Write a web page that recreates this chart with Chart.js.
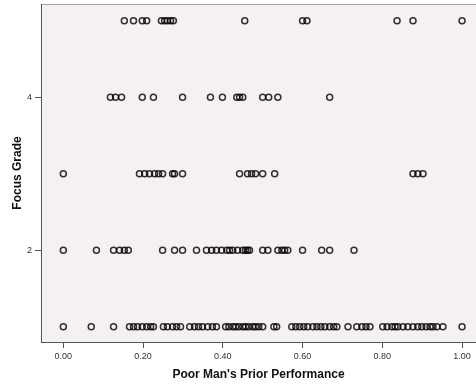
<!DOCTYPE html>
<html>
<head>
<meta charset="utf-8">
<style>
  html, body { margin: 0; padding: 0; background: #fff; overflow: hidden; }
  canvas { display: block; }
</style>
</head>
<body>
<canvas id="myChart" width="476" height="385"></canvas>

<script src="https://cdn.jsdelivr.net/npm/chart.js"></script>

<script>
// prior performance values per focus grade
const grade1 = [0.00, 0.070, 0.126, 0.166, 0.176, 0.186, 0.198, 0.209, 0.219, 0.226,
  0.251, 0.261, 0.274, 0.284, 0.294, 0.317, 0.329, 0.339, 0.349, 0.362, 0.374, 0.384,
  0.407, 0.415, 0.425, 0.432, 0.440, 0.450, 0.457, 0.465, 0.475, 0.482, 0.490, 0.500,
  0.528, 0.535, 0.573, 0.583, 0.593, 0.603, 0.613, 0.626, 0.636, 0.646, 0.656, 0.668,
  0.678, 0.686, 0.714, 0.736, 0.749, 0.759, 0.769, 0.801, 0.812, 0.824, 0.832, 0.839,
  0.852, 0.864, 0.877, 0.889, 0.899, 0.910, 0.920, 0.927, 0.937, 0.952, 1.00];
const grade2 = [0.00, 0.083, 0.126, 0.141, 0.153, 0.163, 0.249, 0.279, 0.299, 0.334,
  0.359, 0.372, 0.384, 0.397, 0.410, 0.417, 0.425, 0.437, 0.450, 0.457, 0.462, 0.467,
  0.500, 0.513, 0.538, 0.548, 0.555, 0.563, 0.600, 0.648, 0.668, 0.729];
const grade3 = [0.00, 0.191, 0.204, 0.216, 0.229, 0.239, 0.249, 0.274, 0.279, 0.299,
  0.442, 0.462, 0.472, 0.482, 0.500, 0.530, 0.877, 0.889, 0.902];
const grade4 = [0.118, 0.131, 0.146, 0.198, 0.226, 0.299, 0.369, 0.399, 0.435, 0.442,
  0.450, 0.500, 0.515, 0.538, 0.668];
const grade5 = [0.153, 0.176, 0.198, 0.209, 0.246, 0.254, 0.261, 0.269, 0.276, 0.455,
  0.600, 0.611, 0.837, 0.877, 1.00];

const grades = [1, 2, 3, 4, 5];
const gradeValues = [grade1, grade2, grade3, grade4, grade5];
const xTicks = [0, 0.2, 0.4, 0.6, 0.8, 1.0];
const yTicks = [2, 4];

const points = [];
gradeValues.forEach((arr, i) => {
  arr.forEach(v => points.push({ x: v, y: grades[i] }));
});

// plot background + top frame line
const plotBg = {
  id: 'plotBg',
  beforeDraw(chart) {
    const a = chart.chartArea;
    const c = chart.ctx;
    c.save();
    c.fillStyle = '#f4f0f4';
    c.fillRect(a.left, a.top, a.right - a.left, a.bottom - a.top);
    c.strokeStyle = '#a0a0a0';
    c.lineWidth = 1;
    c.beginPath();
    c.moveTo(a.left, a.top + 0.5);
    c.lineTo(a.right, a.top + 0.5);
    c.stroke();
    c.restore();
  }
};

const ctx = document.getElementById('myChart').getContext('2d');

new Chart(ctx, {
  type: 'scatter',
  data: {
    datasets: [{
      data: points,
      pointStyle: 'circle',
      pointRadius: 3,
      pointHoverRadius: 3,
      pointBackgroundColor: 'rgba(0,0,0,0)',
      pointBorderColor: 'rgba(0,0,0,0.8)',
      pointBorderWidth: 1.5
    }]
  },
  options: {
    responsive: false,
    animation: false,
    layout: { autoPadding: false, padding: { top: 4, right: 0, left: 0, bottom: 0 } },
    plugins: {
      legend: { display: false },
      tooltip: { enabled: false }
    },
    scales: {
      x: {
        type: 'linear',
        min: -0.056,
        max: 1.035,
        afterBuildTicks: s => { s.ticks = xTicks.map(v => ({ value: v })); },
        afterFit: s => { s.height = 43; s.paddingLeft = 0; s.paddingRight = 0; },
        ticks: {
          callback: v => v.toFixed(2),
          font: { family: 'Liberation Sans, Arial', size: 9 },
          color: '#333',
          padding: 3,
          maxRotation: 0
        },
        grid: { drawOnChartArea: false, tickLength: 6, color: '#555' },
        border: { color: '#555', width: 1 },
        title: {
          display: true,
          text: "Poor Man's Prior Performance",
          font: { family: 'Liberation Sans, Arial', size: 12, weight: 'bold' },
          color: '#111',
          padding: { top: 0, bottom: 3 }
        }
      },
      y: {
        type: 'linear',
        min: 0.8,
        max: 5.22,
        afterBuildTicks: s => { s.ticks = yTicks.map(v => ({ value: v })); },
        afterFit: s => { s.width = 41; s.paddingTop = 0; s.paddingBottom = 0; },
        ticks: {
          font: { family: 'Liberation Sans, Arial', size: 9 },
          color: '#333',
          padding: 3
        },
        grid: { drawOnChartArea: false, tickLength: 6, color: '#555' },
        border: { color: '#555', width: 1 },
        title: {
          display: true,
          text: 'Focus Grade',
          font: { family: 'Liberation Sans, Arial', size: 12, weight: 'bold' },
          color: '#111',
          padding: { top: 10, bottom: 0 }
        }
      }
    }
  },
  plugins: [plotBg]
});
</script>
</body>
</html>
